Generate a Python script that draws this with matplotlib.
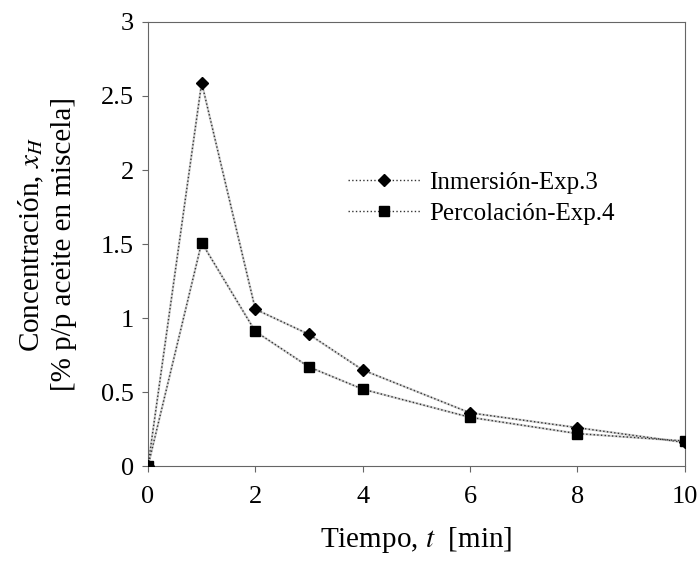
import matplotlib
matplotlib.use("Agg")
import matplotlib.pyplot as plt

plt.rcParams['font.family'] = ['Liberation Serif', 'DejaVu Serif']
plt.rcParams['mathtext.fontset'] = 'stix'

tiempo = [0, 1, 2, 3, 4, 6, 8, 10]
inmersion = [0.0, 2.59, 1.06, 0.89, 0.65, 0.36, 0.26, 0.16]
percolacion = [0.0, 1.51, 0.91, 0.67, 0.52, 0.33, 0.22, 0.17]

fig = plt.figure(figsize=(6.98, 5.63), dpi=100)
ax = fig.add_axes([0.212, 0.172, 0.769, 0.789])

# faint grey trace under the dotted line, like the scanned original
for serie in (inmersion, percolacion):
    ax.plot(tiempo, serie, color='#d0d0d0', linewidth=1.6, zorder=1)

ax.plot(tiempo, inmersion, linestyle=':', color='#333333', linewidth=1.0,
        marker='D', markersize=6.5, markerfacecolor='black', markeredgecolor='black',
        label='Inmersión-Exp.3', zorder=3)
ax.plot(tiempo, percolacion, linestyle=':', color='#333333', linewidth=1.0,
        marker='s', markersize=6.5, markerfacecolor='black', markeredgecolor='black',
        label='Percolación-Exp.4', zorder=3)

ax.set_xlim(0, 10)
ax.set_ylim(0, 3)
ax.set_xticks([0, 2, 4, 6, 8, 10])
ax.set_yticks([0, 0.5, 1, 1.5, 2, 2.5, 3])
ax.set_yticklabels(['0', '0.5', '1', '1.5', '2', '2.5', '3'])
ax.tick_params(direction='out', length=4, labelsize=19, color='#666666')
ax.tick_params(axis='x', pad=10)
ax.tick_params(axis='y', pad=6)
for s in ax.spines.values():
    s.set_color('#666666')

ax.set_xlabel('Tiempo, $t$  [min]', fontsize=21, va='center')
ax.xaxis.set_label_coords(0.5, -0.167)
ax.set_ylabel('Concentración, $x_H$\n[% p/p aceite en miscela]', fontsize=21,
              va='center', linespacing=1.25)
ax.yaxis.set_label_coords(-0.188, 0.5)

ax.legend(loc='upper left', bbox_to_anchor=(0.33, 0.715), frameon=False,
          fontsize=18, handlelength=2.9, handletextpad=0.35, labelspacing=0.35)

fig.savefig('out.png', dpi=100)
